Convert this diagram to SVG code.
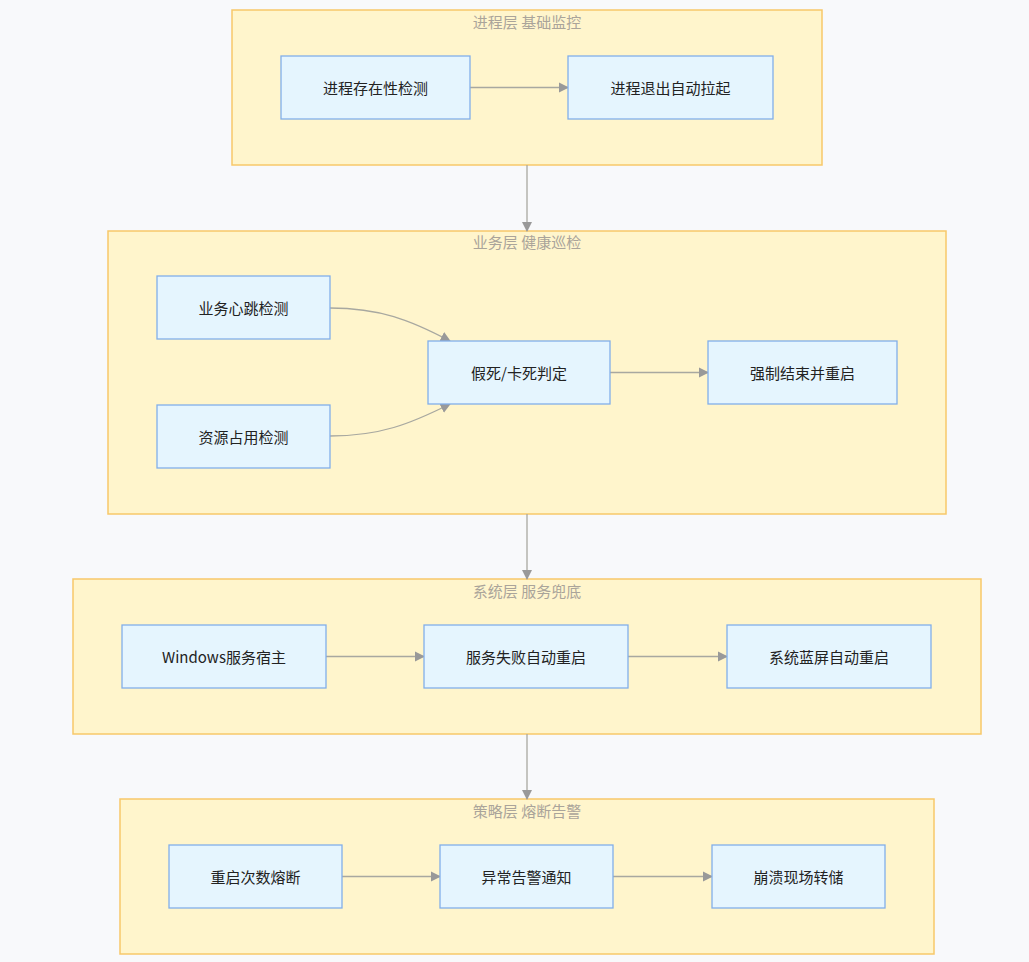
<svg xmlns="http://www.w3.org/2000/svg" width="1029" height="962" viewBox="0 0 1029 962">
<style>
.c{fill:#fff5cc;stroke:#f7c86a;stroke-width:1.5}
.ct{font-family:"Noto Sans CJK SC",sans-serif;font-size:15px;fill:#aaa49a;text-anchor:middle}
.n rect{fill:#e5f5fe;stroke:#82aeea;stroke-width:1.3}
.n text{font-family:"Noto Sans CJK SC",sans-serif;font-size:15px;fill:#222;text-anchor:middle;dominant-baseline:central}
.e{fill:none;stroke:#a8a8a0;stroke-width:1.3;marker-end:url(#a)}
</style>
<defs><marker id="a" viewBox="0 0 10 10" refX="9" refY="5" markerWidth="8" markerHeight="8" orient="auto"><path d="M0,0L10,5L0,10z" fill="#999"/></marker></defs>
<rect width="1029" height="962" fill="#f8f9fb"/>
<g id="cluster1"><rect class="c" x="232" y="10" width="590" height="155"/><text class="ct" x="527" y="28">进程层 基础监控</text></g>
<g id="cluster2"><rect class="c" x="108" y="231" width="838" height="283"/><text class="ct" x="527" y="248">业务层 健康巡检</text></g>
<g id="cluster3"><rect class="c" x="73" y="579" width="908" height="155"/><text class="ct" x="527" y="597">系统层 服务兜底</text></g>
<g id="cluster4"><rect class="c" x="120" y="799" width="814" height="155"/><text class="ct" x="527" y="817">策略层 熔断告警</text></g>
<g id="edges">
<path class="e" d="M527,165V231"/><path class="e" d="M527,514V579"/><path class="e" d="M527,734V799"/>
<path class="e" d="M470,87.5H568"/>
<path class="e" d="M330,308C380,308 410,320 450,341"/>
<path class="e" d="M330,436C380,436 410,424 450,404"/>
<path class="e" d="M610,372.5H708"/>
<path class="e" d="M326,656.5H424"/><path class="e" d="M628,656.5H727"/>
<path class="e" d="M342,876.5H440"/><path class="e" d="M613,876.5H712"/>
</g>
<g id="n1" class="n"><rect x="281" y="56" width="189" height="63"/><text x="375.5" y="87.5">进程存在性检测</text></g>
<g id="n2" class="n"><rect x="568" y="56" width="205" height="63"/><text x="670.5" y="87.5">进程退出自动拉起</text></g>
<g id="n3" class="n"><rect x="157" y="276" width="173" height="63"/><text x="243.5" y="307.5">业务心跳检测</text></g>
<g id="n4" class="n"><rect x="157" y="405" width="173" height="63"/><text x="243.5" y="436.5">资源占用检测</text></g>
<g id="n5" class="n"><rect x="428" y="341" width="182" height="63"/><text x="519" y="372.5">假死/卡死判定</text></g>
<g id="n6" class="n"><rect x="708" y="341" width="189" height="63"/><text x="802.5" y="372.5">强制结束并重启</text></g>
<g id="n7" class="n"><rect x="122" y="625" width="204" height="63"/><text x="224" y="656.5">Windows服务宿主</text></g>
<g id="n8" class="n"><rect x="424" y="625" width="204" height="63"/><text x="526" y="656.5">服务失败自动重启</text></g>
<g id="n9" class="n"><rect x="727" y="625" width="204" height="63"/><text x="829" y="656.5">系统蓝屏自动重启</text></g>
<g id="n10" class="n"><rect x="169" y="845" width="173" height="63"/><text x="255.5" y="876.5">重启次数熔断</text></g>
<g id="n11" class="n"><rect x="440" y="845" width="173" height="63"/><text x="526.5" y="876.5">异常告警通知</text></g>
<g id="n12" class="n"><rect x="712" y="845" width="173" height="63"/><text x="798.5" y="876.5">崩溃现场转储</text></g>
</svg>
